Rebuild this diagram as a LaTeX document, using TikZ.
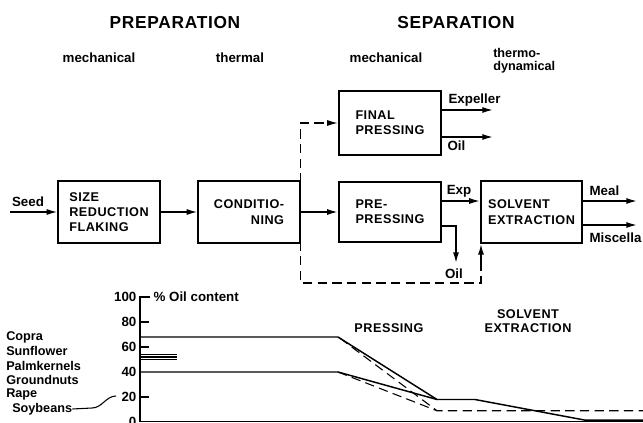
\documentclass[tikz,border=0pt]{standalone}
\usepackage{fontspec}
\setmainfont{Liberation Sans}
\newfontfamily\widefont[LetterSpace=4]{Liberation Sans}
\usetikzlibrary{arrows.meta}

\begin{document}
\begin{tikzpicture}[x=0.75pt, y=-0.75pt,
        boxfont/.style={font=\widefont\bfseries\fontsize{9.5}{11.5}\selectfont},
        box/.style={boxfont, draw, line width=1.4pt, minimum width=76pt, align=left},
        arr/.style={line width=1.1pt, -{Latex[length=8pt,width=4.5pt]}},
        omweg/.style={line width=0.8pt, dash pattern=on 7pt off 4pt},
        head/.style={font=\widefont\bfseries\fontsize{13}{15}\selectfont},
        lbl/.style={font=\bfseries\fontsize{10}{8}\selectfont, inner sep=1pt},
        zaad/.style={font=\bfseries\fontsize{9.5}{8}\selectfont, inner sep=0pt, anchor=west},
        lijn/.style={line width=1.1pt}]
    \useasboundingbox (0,0) rectangle (643,422);

    % Titels
    \node[head] (prep) at (175,23) {PREPARATION};
    \node[head] (sep) at (456,23) {SEPARATION};
    \node[lbl] (mech1) at (99,58) {mechanical};
    \node[lbl] (therm) at (240,58) {thermal};
    \node[lbl] (mech2) at (386,58) {mechanical};
    \node[lbl, align=left, anchor=west, inner sep=0pt, font=\bfseries\fontsize{9.5}{9.5}\selectfont] (thdyn) at (493,61) {thermo-\\dynamical};

    % Blokken
    \node[box, minimum height=47pt] (size) at (109,212) {SIZE\\REDUCTION\\FLAKING};
    \node[box, minimum height=47pt, align=right] (cond) at (249,212) {CONDITIO-\\NING};
    \node[box, minimum height=48pt, minimum width=77pt] (final) at (390,123) {FINAL\\PRESSING};
    \node[box, minimum height=45pt, minimum width=77pt] (pre) at (390,212) {PRE-\\PRESSING};
    \node[box, minimum height=46.5pt] (solv) at (531.5,212) {SOLVENT\\EXTRACTION};

    % Hoofdlijn
    \coordinate (seedin) at (10,212);
    \draw[arr] (seedin) -- (size);
    \node[lbl] (seed) at (28,202) {Seed};
    \draw[arr] (size) -- (cond);
    \draw[arr] (cond) -- (pre);
    \draw[arr] ([yshift=8.25pt]pre.east) -- ([yshift=8.25pt]pre.east -| solv.west);
    \node[lbl] (exp) at (459,191) {Exp};
    \coordinate (preoil) at (456,263);
    \draw[arr] ([yshift=-10.5pt]pre.east) -| (preoil);
    \node[lbl] (oil2) at (454,274) {Oil};

    % Uitgangen
    \coordinate (explout) at (493,110);
    \coordinate (oilout) at (493,137);
    \draw[arr] (final.east |- explout) -- (explout);
    \draw[arr] (final.east |- oilout) -- (oilout);
    \node[lbl, anchor=west] (expl) at (447,100) {Expeller};
    \node[lbl, anchor=west] (oil1) at (446,146) {Oil};
    \coordinate (mealout) at (637,201);
    \coordinate (miscout) at (637,225);
    \draw[arr] (solv.east |- mealout) -- (mealout);
    \draw[arr] (solv.east |- miscout) -- (miscout);
    \node[lbl, anchor=west] (meal) at (588,191) {Meal};
    \node[lbl, anchor=west] (misc) at (588,238) {Miscella};

    % Omweg (gestreept)
    \draw[arr, omweg] (cond.east) |- (final);
    \coordinate (loopbr) at (481,283);
    \coordinate (solvin) at (481,270);
    \draw[omweg] (cond.east) |- (loopbr) -- (solvin);
    \draw[arr] (solvin) -- (solvin |- solv.south);

    % Grafiek
    \begin{scope}[shift={(0,422)}, yscale=-1.25]
        \draw[lijn] (140,0) -- (140,100) -- (150,100);
        \foreach \v in {20,60,80}
            \draw[lijn] (140,\v) -- (149,\v);
        \foreach \v in {0,20,40,...,100}
            \node[lbl, anchor=east] (t\v) at (138,\v) {\v};
        \node[lbl, anchor=west] (ylab) at (152,100) {\% Oil content};
        \draw[lijn] (140,0.5) -- (643,0.5);
        \foreach \v in {54,52,50}
            \draw[line width=0.8pt] (140,\v) -- (177,\v);
        \draw[lijn] (140,68) -- (338,68) -- (437,18) -- (475,18) -- (585,1.5) -- (643,1.5);
        \draw[lijn] (140,40) -- (338,40) -- (437,18);
        \draw[omweg] (340,67) -- (437,9) -- (643,9);
        \draw[omweg] (338,40) -- (437,9);
    \end{scope}
    \node[boxfont] (press) at (389,328) {PRESSING};
    \node[boxfont, align=center, font=\widefont\bfseries\fontsize{9.5}{10}\selectfont] (extr) at (528,321) {SOLVENT\\EXTRACTION};

    % Zaden
    \node[zaad] (copra) at (6,337) {Copra};
    \node[zaad] (sunfl) at (6,351) {Sunflower};
    \node[zaad] (palmk) at (6,366) {Palmkernels};
    \node[zaad] (ground) at (6,380) {Groundnuts};
    \node[zaad] (rape) at (6,394) {Rape};
    \node[zaad] (soy) at (12,409) {Soybeans};
    \draw[line width=0.8pt] (soy.east) -- (92,408) .. controls (102,408) and (106,396) .. (116,396);
\end{tikzpicture}
\end{document}
